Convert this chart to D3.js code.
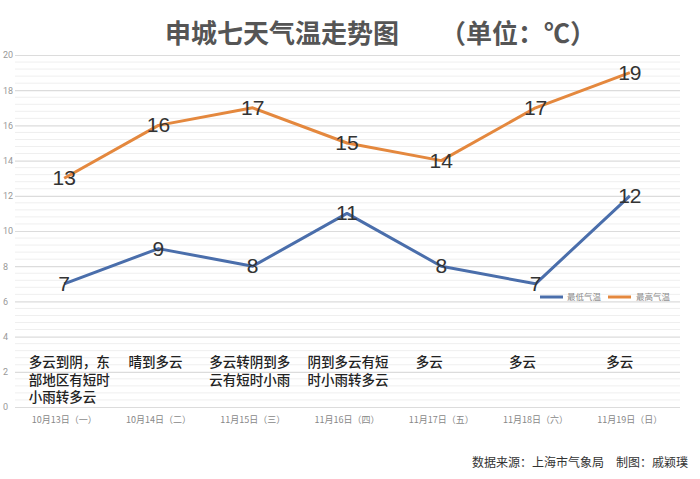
<!DOCTYPE html>
<html><head><meta charset="utf-8">
<script src="https://cdn.jsdelivr.net/npm/d3@7"></script>
<style>body{margin:0;background:#fff}svg{display:block}</style>
</head><body>
<script>
const dates = ["10月13日（一）","10月14日（二）","11月15日（三）","11月16日（四）","11月17日（五）","11月18日（六）","11月19日（日）"];
const weather = [["多云到阴，东","部地区有短时","小雨转多云"],["晴到多云"],["多云转阴到多","云有短时小雨"],["阴到多云有短","时小雨转多云"],["多云"],["多云"],["多云"]];
const lowTemps = [7,9,8,11,8,7,12];
const highTemps = [13,16,17,15,14,17,19];
const yTicks = [0,2,4,6,8,10,12,14,16,18,20];
const seriesNames = ["最低气温","最高气温"];
const colors = ["#4a6eab","#e4883e"];

const W=700,H=479;
const svg=d3.select("body").append("svg").attr("width",W).attr("height",H);
const x=d3.scaleBand().domain(dates).range([17,677]);
const y=d3.scaleLinear().domain([0,20]).range([407,55]);
const cx=d=>x(d)+x.bandwidth()/2;

// minor gridlines
const minor=d3.range(0,20.01,0.4).filter(v=>Math.abs(v/2-Math.round(v/2))>0.01);
svg.append("g").selectAll("line").data(minor).join("line")
 .attr("x1",15).attr("x2",680).attr("y1",d=>y(d)).attr("y2",d=>y(d))
 .attr("stroke","#efefef").attr("stroke-width",1);
// major grid + y axis
const ya=svg.append("g").attr("transform","translate(15,0)")
 .call(d3.axisLeft(y).tickValues(yTicks).tickSize(-665).tickPadding(4));
ya.select(".domain").remove();
ya.selectAll(".tick line").attr("stroke","#dcdcdc").attr("stroke-width",1.2);
ya.selectAll(".tick text").attr("fill","#999").attr("font-size",9).attr("font-family","Roboto, sans-serif").attr("text-anchor","start").attr("x",-12);

// x axis labels
const xa=svg.append("g").attr("transform","translate(0,407)").call(d3.axisBottom(x).tickSize(0).tickPadding(10));
xa.select(".domain").remove();
xa.selectAll(".tick text").attr("fill","#888").attr("font-size",9).attr("font-family","'Noto Sans CJK SC', sans-serif");

// weather text (left-aligned blocks)
const fs=13.5;
const offs=[5,-3,-3,1,-12,-13,-10];
weather.forEach((lines,i)=>{
  const maxLen=d3.max(lines,l=>l.length);
  const left=cx(dates[i])+offs[i]-maxLen*fs/2;
  const t=svg.append("text").attr("x",left)
   .attr("font-size",fs).attr("font-weight",500).attr("fill","#222").attr("font-family","'Noto Sans CJK SC', sans-serif");
  lines.forEach((l,j)=>t.append("tspan").attr("x",left).attr("y",367+j*17.5).text(l));
});

// lines
const line=d3.line().x((d,i)=>cx(dates[i])).y(d=>y(d));
[lowTemps,highTemps].forEach((s,k)=>{
  svg.append("path").datum(s).attr("d",line).attr("fill","none").attr("stroke",colors[k]).attr("stroke-width",3).attr("stroke-linejoin","round");
  svg.append("g").selectAll("text").data(s).join("text")
   .attr("x",(d,i)=>cx(dates[i])).attr("y",d=>y(d)+7).attr("text-anchor","middle")
   .attr("font-size",21).attr("fill","#333").attr("font-family","'Liberation Sans', Arial, sans-serif").text(d=>d);
});

// legend
const lg=svg.append("g");
[[540,567],[608,636]].forEach((p,k)=>{
  lg.append("line").attr("x1",p[0]).attr("x2",p[0]+23).attr("y1",297).attr("y2",297).attr("stroke",colors[k]).attr("stroke-width",3);
  lg.append("text").attr("x",p[1]).attr("y",300).attr("font-size",8.5).attr("fill","#888").attr("font-family","'Noto Sans CJK SC', sans-serif").text(seriesNames[k]);
});

// title
svg.append("text").attr("x",165).attr("y",43).attr("font-size",26).attr("font-weight",700).attr("fill","#555")
 .attr("font-family","'Noto Sans CJK SC', sans-serif").text("申城七天气温走势图");
svg.append("text").attr("x",440).attr("y",43).attr("font-size",26).attr("font-weight",700).attr("fill","#555")
 .attr("font-family","'Noto Sans CJK SC', sans-serif").text("（单位：℃）");

// source
svg.append("text").attr("x",688).attr("y",467).attr("text-anchor","end").attr("font-size",12).attr("fill","#333")
 .attr("font-family","'Noto Sans CJK SC', sans-serif").text("数据来源：上海市气象局　制图：戚颖璞");
</script>
</body></html>
